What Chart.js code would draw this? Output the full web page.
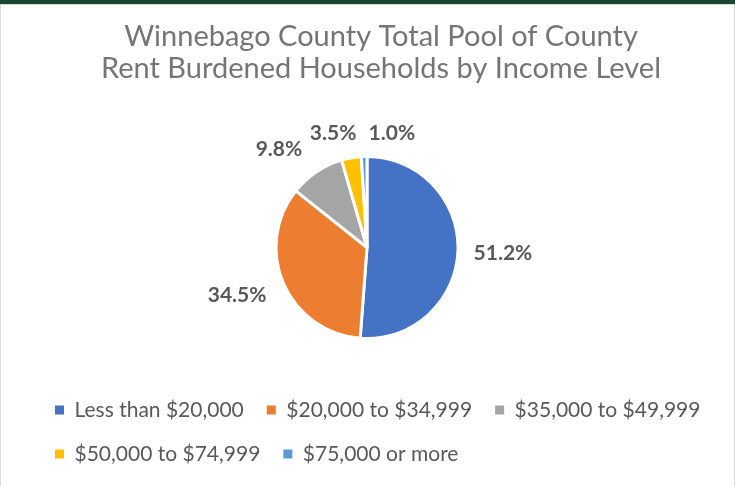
<!DOCTYPE html>
<html>
<head>
<meta charset="utf-8">
<script src="https://cdn.jsdelivr.net/npm/chart.js@4/dist/chart.umd.min.js"></script>
<style>
  body { margin: 0; background: #fff; }
  #frame { width: 735px; height: 486px; box-sizing: border-box; border-top: 4px solid #1a4530; position: relative; }
  #inner { position: absolute; left: 0; top: 0; right: 0; bottom: 0; border-top: 1px solid #d9d9d9; border-left: 1px solid #d9d9d9; border-right: 1px solid #d9d9d9; }
  #box { position: relative; width: 733px; height: 481px; }
</style>
</head>
<body>
<div id="frame"><div id="inner"><div id="box"><canvas id="chart_income"></canvas></div></div></div>
<script>
const titleLines = ['Winnebago County Total Pool of County', 'Rent Burdened Households by Income Level']
const incomeLevels = ['Less than $20,000', '$20,000 to $34,999', '$35,000 to $49,999', '$50,000 to $74,999', '$75,000 or more']
const shares = [51.2, 34.5, 9.8, 3.5, 1.0]
const colors = ['#4472C4', '#ED7D31', '#A5A5A5', '#FFC000', '#5B9BD5']

// nudges so the outside labels sit roughly where excel put them
const labelNudge = [[3, 1], [-8, -5], [-14, 12], [-11, 17], [29, 19]]

const outsideLabels = {
    id: 'outsideLabels',
    afterDatasetsDraw(chart) {
        const ctx = chart.ctx
        const meta = chart.getDatasetMeta(0)
        ctx.save()
        ctx.font = 'bold 21px Lato'
        ctx.fillStyle = '#595959'
        ctx.textAlign = 'center'
        ctx.textBaseline = 'middle'
        meta.data.forEach((arc, i) => {
            const { x, y, startAngle, endAngle, outerRadius } = arc.getProps(['x', 'y', 'startAngle', 'endAngle', 'outerRadius'], true)
            const mid = (startAngle + endAngle) / 2
            const d = outerRadius + 42
            ctx.fillText(shares[i].toFixed(1) + '%', x + Math.cos(mid) * d + labelNudge[i][0], y + Math.sin(mid) * d + labelNudge[i][1])
        })
        ctx.restore()
    }
}

let ctx = document.getElementById('chart_income').getContext('2d')

let myChart = new Chart(ctx, {
    type: 'pie',
    data: {
        labels: incomeLevels,
        datasets: [{
            data: shares,
            backgroundColor: colors,
            borderColor: '#ffffff',
            borderWidth: 3
        }]
    },
    options: {
        responsive: true,
        maintainAspectRatio: false,
        animation: false,
        radius: 91,
        layout: { padding: { left: 31, right: 4, top: 0, bottom: 11.5 } },
        plugins: {
            title: {
                display: true,
                text: titleLines,
                color: '#757575',
                font: { family: 'Lato', size: 29, weight: 'normal', lineHeight: 1.09 },
                padding: { top: 16, bottom: 34.3 }
            },
            // empty box on the right, keeps the pie where excel has it
            subtitle: {
                display: true,
                text: ' ',
                position: 'right',
                fullSize: false,
                font: { size: 10, lineHeight: 1 },
                padding: { top: 9, bottom: 9 }
            },
            legend: {
                position: 'bottom',
                align: 'start',
                labels: {
                    boxWidth: 9,
                    boxHeight: 9,
                    padding: 23,
                    color: '#595959',
                    font: { family: 'Lato', size: 21 },
                    generateLabels(chart) {
                        return Chart.overrides.doughnut.plugins.legend.labels.generateLabels(chart)
                            .map(item => ({ ...item, lineWidth: 0 }))
                    }
                }
            },
            tooltip: { enabled: false }
        }
    },
    plugins: [outsideLabels]
})
</script>
</body>
</html>
